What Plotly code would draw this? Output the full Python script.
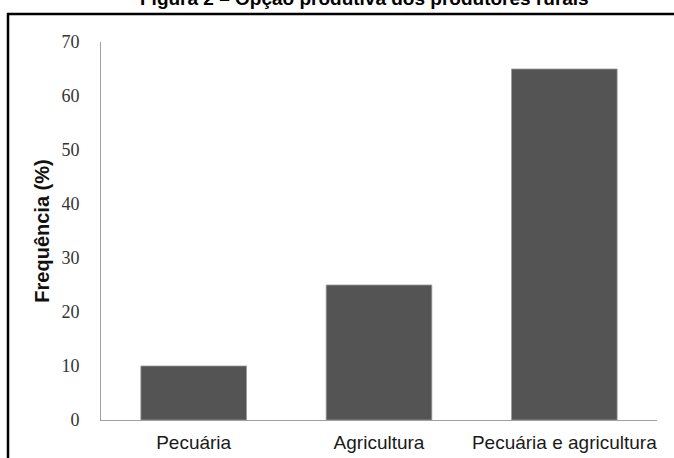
import plotly.graph_objects as go

# Production choice of rural producers (%)
categories = ["Pecuária", "Agricultura", "Pecuária e agricultura"]
frequencies = [10, 25, 65]
y_ticks = [0, 10, 20, 30, 40, 50, 60, 70]

W, H = 674, 458
L, R, T, B = 101, 17, 42, 38
pw, ph = W - L - R, H - T - B


def px_x(x):
    return (x - L) / pw


def px_y(y):
    return (H - B - y) / ph


fig = go.Figure(
    go.Bar(
        x=categories,
        y=frequencies,
        width=0.57,
        marker=dict(color="#545454", line=dict(color="#9a9a9a", width=0.8)),
        hoverinfo="x+y",
    )
)

fig.update_layout(
    width=W,
    height=H,
    margin=dict(l=L, r=R, t=T, b=B),
    paper_bgcolor="white",
    plot_bgcolor="white",
    showlegend=False,
    xaxis=dict(
        range=[-0.5, 2.5],
        automargin=False,
        showline=True,
        linecolor="#a0a0a0",
        linewidth=1,
        ticks="",
        showgrid=False,
        tickfont=dict(family="Arial, Liberation Sans, sans-serif", size=19, color="#1a1a1a"),
        ticklabelstandoff=5,
    ),
    yaxis=dict(
        range=[0, 70],
        automargin=False,
        tickvals=y_ticks,
        showline=True,
        linecolor="#a0a0a0",
        linewidth=1,
        ticks="",
        showgrid=False,
        zeroline=False,
        tickfont=dict(family="Times New Roman, Liberation Serif, serif", size=18, color="#333333"),
        ticklabelstandoff=17,
        title=dict(
            text="<b>Frequência (%)</b>",
            font=dict(family="Arial, Liberation Sans, sans-serif", size=20, color="#111111"),
            standoff=6,
        ),
    ),
    shapes=[
        dict(
            type="rect",
            xref="paper",
            yref="paper",
            x0=px_x(8),
            x1=px_x(700),
            y0=px_y(480),
            y1=px_y(14),
            line=dict(color="black", width=2.5),
            fillcolor="rgba(0,0,0,0)",
            layer="below",
        )
    ],
    annotations=[
        dict(
            text="<b>Figura 2 – Opção produtiva dos produtores rurais</b>",
            xref="paper",
            yref="paper",
            x=px_x(364),
            y=px_y(11),
            xanchor="center",
            yanchor="bottom",
            showarrow=False,
            font=dict(family="Arial, Liberation Sans, sans-serif", size=19, color="black"),
        )
    ],
)

fig.write_html("out.html")
